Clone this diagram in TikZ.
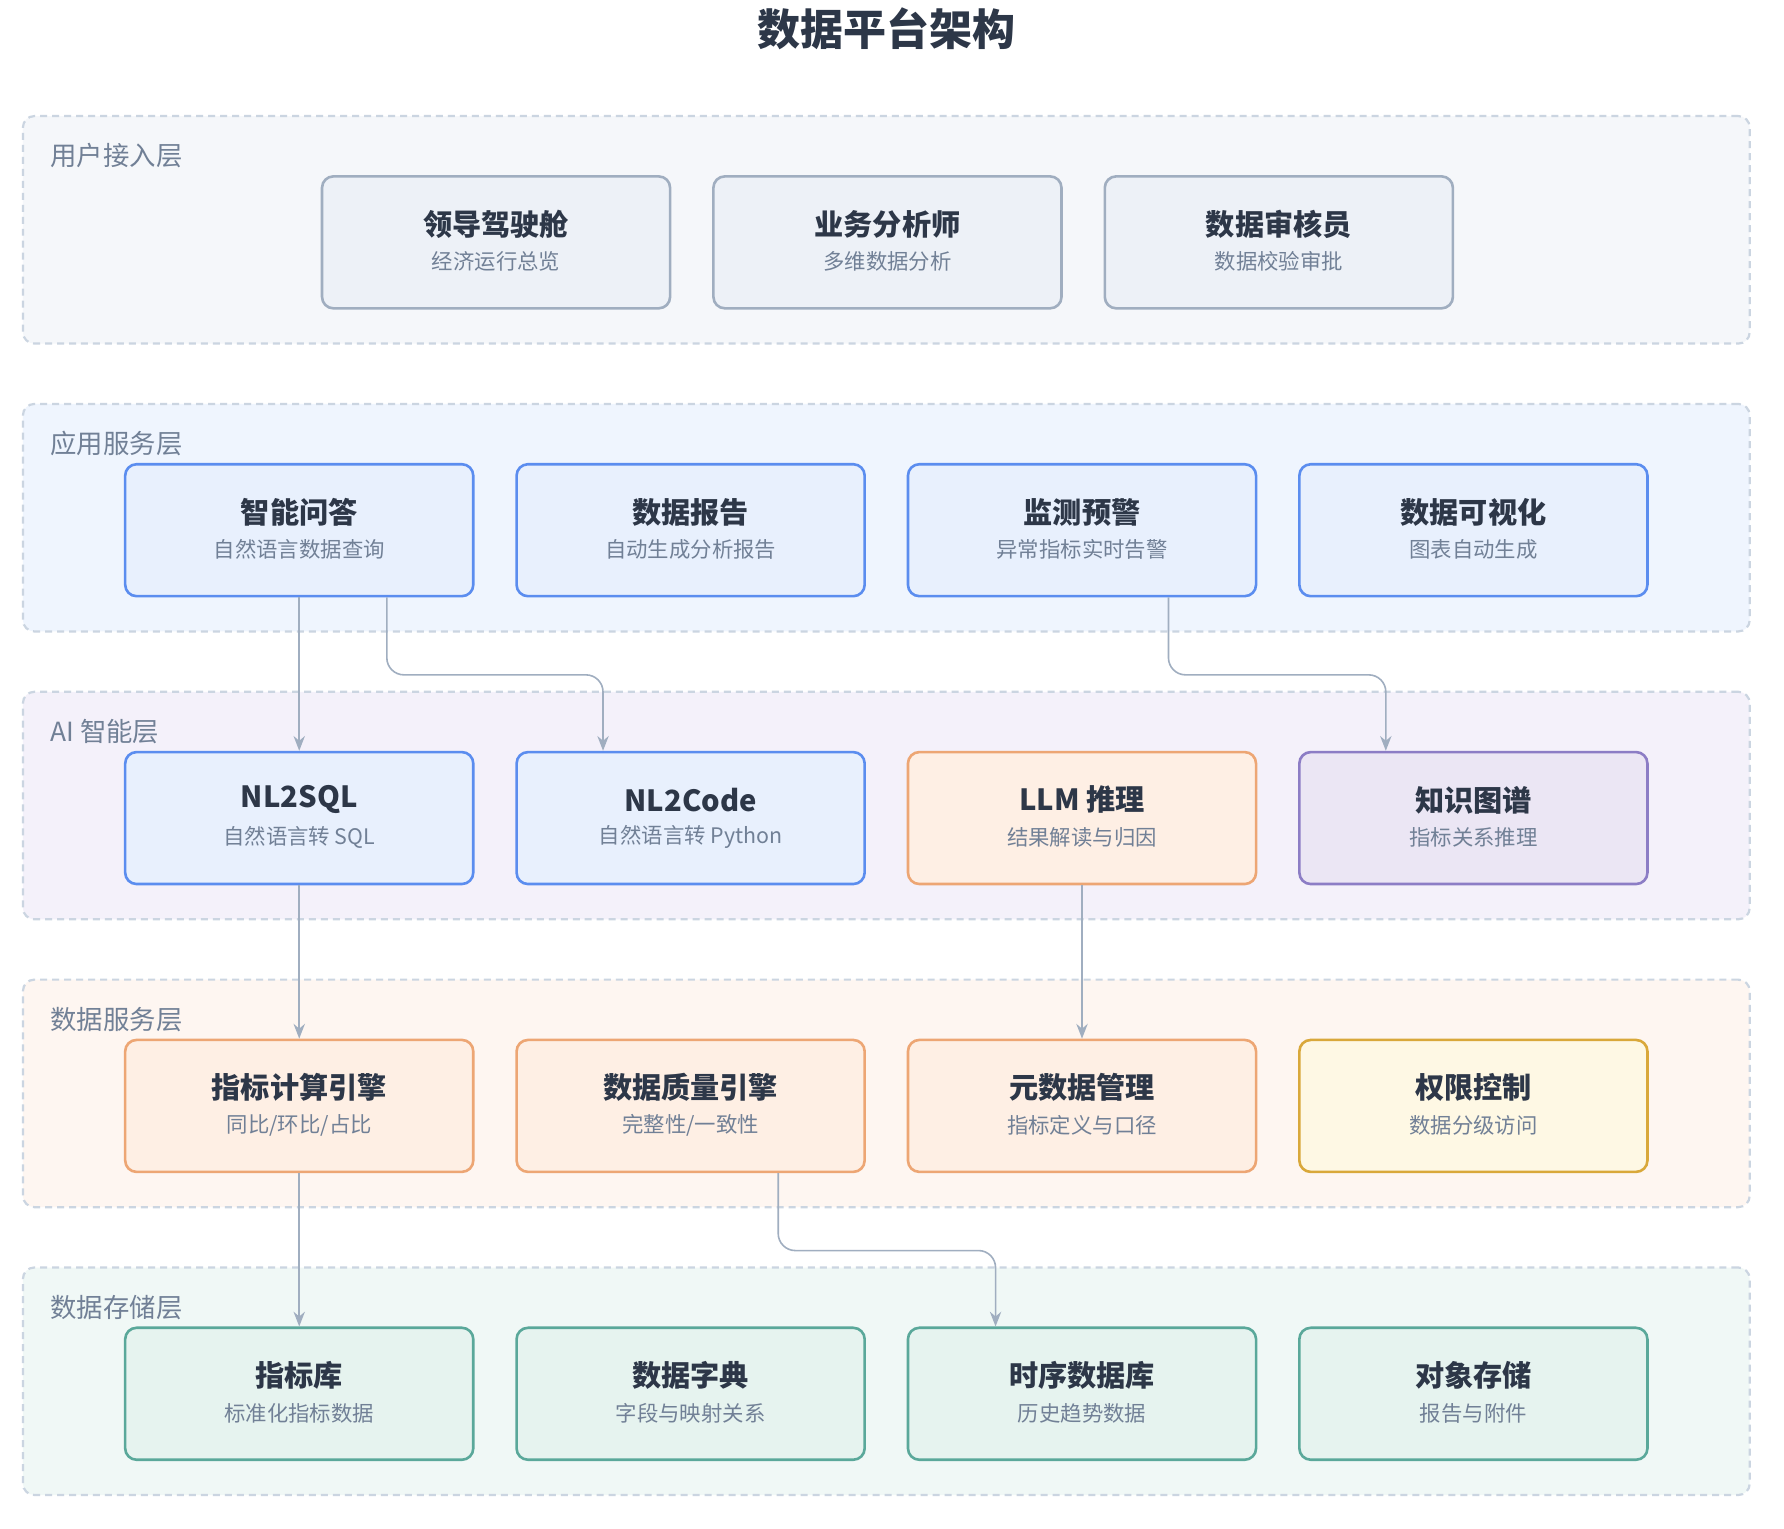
\documentclass[tikz,border=0pt]{standalone}
\usepackage{fontspec}
\setmainfont{Noto Sans CJK SC}
\usetikzlibrary{arrows.meta}
\definecolor{txtdark}{HTML}{2D3748}
\definecolor{txtsub}{HTML}{718096}
\definecolor{dashc}{HTML}{CBD5E1}
\definecolor{arrc}{HTML}{A0AEC0}
\definecolor{Lgray}{HTML}{F5F7FA}
\definecolor{Lblue}{HTML}{EFF5FE}
\definecolor{Lpurple}{HTML}{F4F1FA}
\definecolor{Lorange}{HTML}{FEF6F1}
\definecolor{Lteal}{HTML}{F0F8F6}
\definecolor{Bgrayf}{HTML}{EDF1F7}
\definecolor{Bgrayd}{HTML}{A0AEC0}
\definecolor{Bbluef}{HTML}{E8F0FD}
\definecolor{Bblued}{HTML}{5B8DEF}
\definecolor{Boranf}{HTML}{FEEFE4}
\definecolor{Borand}{HTML}{EDA674}
\definecolor{Bpurpf}{HTML}{EBE6F4}
\definecolor{Bpurpd}{HTML}{8C7DC5}
\definecolor{Byelf}{HTML}{FEF8E4}
\definecolor{Byeld}{HTML}{D9A83A}
\definecolor{Btealf}{HTML}{E6F3EF}
\definecolor{Bteald}{HTML}{5AA89A}
\tikzset{
  layerbox/.style={draw=dashc, line width=1.1pt, dash pattern=on 3.5pt off 2.5pt,
    rounded corners=0.2cm, minimum width=30.36cm, minimum height=4cm, inner sep=0pt},
  layerlbl/.style={anchor=west, text=txtsub, font=\fontsize{13.2}{16}\selectfont, inner sep=0pt},
  boxbase/.style={rounded corners=0.2cm, line width=1.3pt, minimum width=6.12cm, minimum height=2.32cm, inner sep=0pt},
  gbox/.style={boxbase, draw=Bgrayd, fill=Bgrayf},
  bbox/.style={boxbase, draw=Bblued, fill=Bbluef},
  obox/.style={boxbase, draw=Borand, fill=Boranf},
  pbox/.style={boxbase, draw=Bpurpd, fill=Bpurpf},
  ybox/.style={boxbase, draw=Byeld, fill=Byelf},
  tbox/.style={boxbase, draw=Bteald, fill=Btealf},
  ttl/.style={text=txtdark, font=\fontsize{14.6}{17}\selectfont\bfseries, inner sep=0pt},
  sub/.style={text=txtsub, font=\fontsize{10.7}{13}\selectfont, inner sep=0pt},
  arr/.style={draw=arrc, line width=0.8pt, rounded corners=0.3cm,
    -{Stealth[length=0.26cm, width=0.2cm, fill=arrc]}},
}
\newcommand\mkbox[6]{%
  \node[#4] (#1) at (#2,#3) {};
  \node[ttl] (#1-t) at (#2,#3-16) {#5};
  \node[sub] (#1-s) at (#2,#3+17) {#6};
}
\begin{document}
\begin{tikzpicture}[x=0.02cm, y=-0.02cm]
\useasboundingbox[fill=white] (0,0) rectangle (1568,1343);
\node[text=txtdark, font=\fontsize{21.5}{26}\selectfont\bfseries, inner sep=0pt] (title) at (779,25) {数据平台架构};

% layers
\node[layerbox, fill=Lgray]   (L1) at (779,202) {};
\node[layerbox, fill=Lblue]   (L2) at (779,455) {};
\node[layerbox, fill=Lpurple] (L3) at (779,708) {};
\node[layerbox, fill=Lorange] (L4) at (779,961) {};
\node[layerbox, fill=Lteal]   (L5) at (779,1214) {};
\node[layerlbl] (L1l) at (44,137) {用户接入层};
\node[layerlbl] (L2l) at (44,390) {应用服务层};
\node[layerlbl] (L3l) at (44,643) {AI 智能层};
\node[layerlbl] (L4l) at (44,896) {数据服务层};
\node[layerlbl] (L5l) at (44,1149) {数据存储层};

% layer 1
\mkbox{u1}{436}{213}{gbox}{领导驾驶舱}{经济运行总览}
\mkbox{u2}{780}{213}{gbox}{业务分析师}{多维数据分析}
\mkbox{u3}{1124}{213}{gbox}{数据审核员}{数据校验审批}
% layer 2
\mkbox{a1}{263}{466}{bbox}{智能问答}{自然语言数据查询}
\mkbox{a2}{607}{466}{bbox}{数据报告}{自动生成分析报告}
\mkbox{a3}{951}{466}{bbox}{监测预警}{异常指标实时告警}
\mkbox{a4}{1295}{466}{bbox}{数据可视化}{图表自动生成}
% layer 3
\mkbox{i1}{263}{719}{bbox}{NL2SQL}{自然语言转 SQL}
\mkbox{i2}{607}{719}{bbox}{NL2Code}{自然语言转 Python}
\mkbox{i3}{951}{719}{obox}{LLM 推理}{结果解读与归因}
\mkbox{i4}{1295}{719}{pbox}{知识图谱}{指标关系推理}
% layer 4
\mkbox{d1}{263}{972}{obox}{指标计算引擎}{同比/环比/占比}
\mkbox{d2}{607}{972}{obox}{数据质量引擎}{完整性/一致性}
\mkbox{d3}{951}{972}{obox}{元数据管理}{指标定义与口径}
\mkbox{d4}{1295}{972}{ybox}{权限控制}{数据分级访问}
% layer 5
\mkbox{s1}{263}{1225}{tbox}{指标库}{标准化指标数据}
\mkbox{s2}{607}{1225}{tbox}{数据字典}{字段与映射关系}
\mkbox{s3}{951}{1225}{tbox}{时序数据库}{历史趋势数据}
\mkbox{s4}{1295}{1225}{tbox}{对象存储}{报告与附件}

% connectors
\draw[arr] (a1.south) -- (i1.north);
\draw[arr] ([xshift=1.54cm]a1.south) -- ++(0,68) -| ([xshift=-1.54cm]i2.north);
\draw[arr] ([xshift=1.52cm]a3.south) -- ++(0,68) -| ([xshift=-1.54cm]i4.north);
\draw[arr] (i1.south) -- (d1.north);
\draw[arr] (i3.south) -- (d3.north);
\draw[arr] (d1.south) -- (s1.north);
\draw[arr] ([xshift=1.54cm]d2.south) -- ++(0,68) -| ([xshift=-1.52cm]s3.north);
\end{tikzpicture}
\end{document}
